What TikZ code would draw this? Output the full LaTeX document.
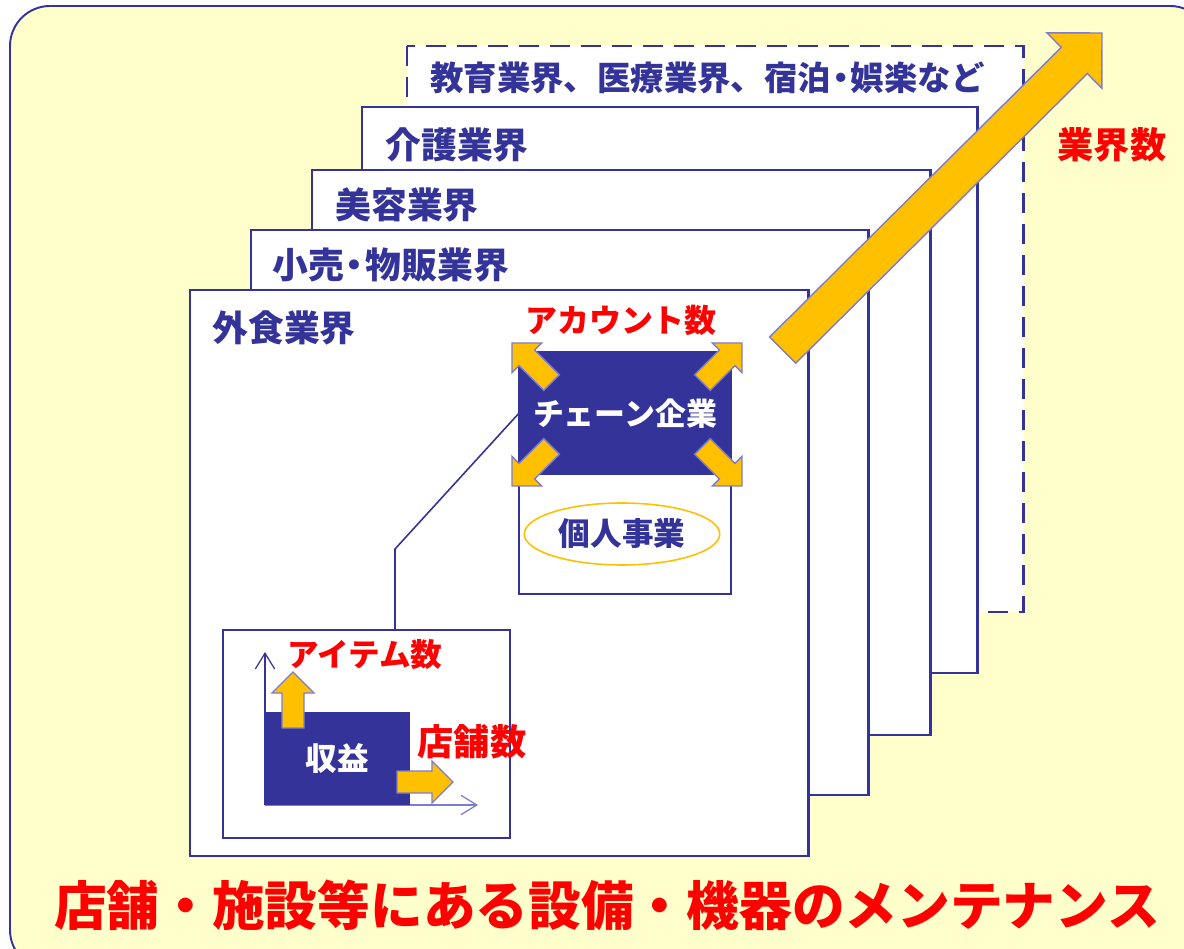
\documentclass[tikz,border=0pt]{standalone}
\usepackage{fontspec}
\newfontfamily\jp{Noto Sans CJK JP}
\usetikzlibrary{shapes.geometric,arrows.meta}
\definecolor{navy}{HTML}{333399}
\definecolor{gold}{HTML}{FFC000}
\definecolor{lilac}{HTML}{7B7BD6}
\definecolor{cream}{HTML}{FFFFCC}
\definecolor{hired}{HTML}{FF0000}

\begin{document}
\begin{tikzpicture}[x=0.02cm, y=-0.02cm,
    panel/.style={draw=navy, line width=1.7pt, fill=white},
    sbox/.style={draw=navy, line width=0.9pt, fill=white, inner sep=0pt},
    ttl/.style={anchor=west, inner sep=0pt, text=navy, font=\jp\bfseries\fontsize{20.4}{24}\selectfont},
    lbl/.style={inner sep=0pt, text=hired, font=\jp\bfseries\fontsize{18}{22}\selectfont},
    arr/.style={draw=lilac, line width=0.8pt, fill=gold, line join=miter},
    blk/.pic={\draw[arr] (0,0) -- (-21,21) -- (-21,11) -- (-56,11) -- (-56,-11) -- (-21,-11) -- (-21,-21) -- cycle;}]

  \useasboundingbox (0,0) rectangle (1184,949);
  \fill[white] (0,0) rectangle (1184,949);
  \draw[draw=navy, line width=1.1pt, fill=cream, rounded corners=0.8cm] (10,6) rectangle (1210,970);

  % industries, back to front
  \draw[panel, dash pattern=on 0.4cm off 0.22cm] (407,46) rectangle (1023,612);
  \node[ttl, font=\jp\bfseries\fontsize{19}{23}\selectfont] (edu) at (430,78) {教育業界、医療業界、宿泊\kern-.2em・\kern-.2em娯楽など};
  \draw[panel] (362,107) rectangle (977,673);
  \node[ttl] (care) at (385,145) {介護業界};
  \draw[panel] (312,170) rectangle (930,735);
  \node[ttl] (beauty) at (335,205) {美容業界};
  \draw[panel] (251,230) rectangle (868,795);
  \node[ttl] (retail) at (272,265) {小売\kern-.2em・\kern-.2em物販業界};
  \draw[panel] (190,290) rectangle (808,856);
  \node[ttl] (food) at (212,328) {外食業界};

  % number of industries
  \draw[arr, shift={(1102,33)}, rotate=44.8] (0,0) -- (-39,39) -- (-39,18.5) -- (-450,18.5)
      -- (-450,-18.5) -- (-39,-18.5) -- (-39,-39) -- cycle;
  \node[lbl, font=\jp\bfseries\fontsize{20.6}{24}\selectfont] (inds) at (1112,145) {業界数};

  % accounts
  \node[sbox, minimum width=4.24cm, minimum height=4.84cm] (acc) at (625,473) {};
  \node[fill=navy, minimum width=4.24cm, minimum height=2.46cm, text=white,
        font=\jp\bfseries\fontsize{17.6}{21}\selectfont] (ch) at (625,413.5) {チェーン企業};
  \node[ellipse, draw=gold, line width=0.9pt, fill=white, minimum width=3.64cm, minimum height=1.24cm,
        text=navy, font=\jp\bfseries\fontsize{18}{22}\selectfont] (ind) at (622,534) {個人事業};
  \pic[rotate=135] at (512,343) {blk};
  \pic[rotate=45] at (742,343) {blk};
  \pic[rotate=225] at (512,486) {blk};
  \pic[rotate=315] at (742,486) {blk};
  \node[lbl, font=\jp\bfseries\fontsize{18.2}{22}\selectfont] (accn) at (621,320) {アカウント数};

  % revenue
  \node[sbox, minimum width=5.74cm, minimum height=4.16cm] (sb) at (366.5,734) {};
  \coordinate (bend) at (395,549);
  \draw[navy, line width=0.9pt] (ch.west) -- (bend) -- (bend |- sb.north);
  \draw[navy, line width=0.7pt, -{Straight Barb[length=9pt,width=11pt]}] (265,805) -- (265,652);
  \draw[lilac, line width=0.7pt, -{Straight Barb[length=9pt,width=11pt]}] (265,805) -- (478,805);
  \node[fill=navy, minimum width=2.9cm, minimum height=1.86cm, text=white,
        font=\jp\bfseries\fontsize{18}{22}\selectfont] (rev) at (337.5,758.5) {収益};
  \pic[rotate=90] at (293,672) {blk};
  \pic at (453,782) {blk};
  \node[lbl] (items) at (365,655) {アイテム数};
  \node[lbl, font=\jp\bfseries\fontsize{20.6}{24}\selectfont] (shops) at (472,742) {店舗数};

  \node[lbl, font=\jp\bfseries\fontsize{30}{36}\selectfont] (main) at (607,905) {店舗・施設等にある設備・機器のメンテナンス};
\end{tikzpicture}
\end{document}
